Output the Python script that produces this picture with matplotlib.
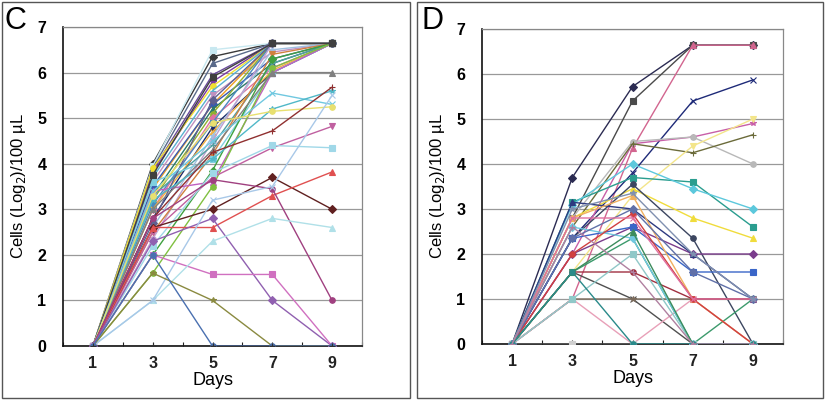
import matplotlib
matplotlib.use("Agg")
import matplotlib.pyplot as plt
from matplotlib.patches import Rectangle

plt.rcParams['font.family'] = ['Liberation Sans', 'DejaVu Sans']

days = [1, 3, 5, 7, 9]
y_ticks = [0, 1, 2, 3, 4, 5, 6, 7]
x_tick_labels = ["1", "3", "5", "7", "9"]
y_label = "Cells (Log$_2$)/100 µL"
x_label = "Days"
panel_labels = ["C", "D"]

c_series = [
    [0, 4.0, 6.35, 6.64, 6.64],
    [0, 3.95, 6.5, 6.64, 6.64],
    [0, 3.9, 6.2, 6.64, 6.64],
    [0, 3.85, 5.95, 6.64, 6.64],
    [0, 3.8, 5.8, 6.64, 6.64],
    [0, 3.9, 5.7, 6.64, 6.64],
    [0, 3.7, 5.6, 6.64, 6.64],
    [0, 3.6, 5.5, 6.45, 6.64],
    [0, 3.45, 5.3, 6.64, 6.64],
    [0, 3.5, 5.3, 6.3, 6.64],
    [0, 3.3, 5.2, 6.2, 6.64],
    [0, 3.2, 5.1, 6.64, 6.64],
    [0, 3.0, 5.0, 6.1, 6.64],
    [0, 3.1, 4.9, 6.64, 6.64],
    [0, 2.8, 4.8, 6.0, 6.64],
    [0, 3.0, 4.7, 6.05, 6.64],
    [0, 2.6, 4.6, 6.5, 6.64],
    [0, 2.35, 4.5, 6.64, 6.64],
    [0, 3.3, 4.4, 6.2, 6.64],
    [0, 2.5, 4.2, 6.4, 6.64],
    [0, 3.6, 4.1, 6.0, 6.64],
    [0, 2.0, 3.85, 6.3, 6.64],
    [0, 3.4, 3.6, 6.0, 6.64],
    [0, 1.6, 3.5, 6.1, 6.64],
    [0, 2.7, 5.4, 6.64, 6.64],
    [0, 3.75, 5.9, 6.64, 6.64],
    [0, 3.0, 4.3, 6.0, 6.0],
    [0, 3.4, 4.5, 5.55, 5.3],
    [0, 3.2, 4.1, 5.2, 5.6],
    [0, 3.3, 4.9, 5.15, 5.25],
    [0, 2.8, 4.25, 4.72, 5.68],
    [0, 2.5, 3.7, 4.35, 4.82],
    [0, 2.2, 3.8, 4.4, 4.35],
    [0, 2.6, 3.0, 3.7, 3.0],
    [0, 2.6, 2.6, 3.3, 3.82],
    [0, 2.8, 3.65, 3.45, 1.0],
    [0, 2.3, 2.8, 1.0, 0],
    [0, 2.0, 1.57, 1.57, 0],
    [0, 1.0, 2.3, 2.8, 2.6],
    [0, 1.0, 3.2, 3.5, 5.5],
    [0, 1.6, 1.0, 0, 0],
    [0, 2.0, 0, 0, 0],
    [0, 0, 0, 0, 0],
]

d_series = [
    [0, 3.7, 5.72, 6.64, 6.64],
    [0, 2.8, 5.4, 6.64, 6.64],
    [0, 1.0, 4.35, 6.64, 6.64],
    [0, 2.35, 3.8, 5.4, 5.87],
    [0, 2.0, 4.45, 4.6, 4.9],
    [0, 2.8, 4.5, 4.6, 4.0],
    [0, 2.6, 4.45, 4.25, 4.65],
    [0, 1.6, 3.3, 4.4, 5.0],
    [0, 3.15, 3.7, 3.6, 2.6],
    [0, 3.1, 4.0, 3.45, 3.0],
    [0, 2.8, 3.45, 2.8, 2.35],
    [0, 2.35, 3.55, 2.35, 0],
    [0, 2.0, 2.6, 2.0, 2.0],
    [0, 2.35, 2.6, 1.6, 1.6],
    [0, 3.15, 3.0, 2.0, 1.0],
    [0, 1.6, 1.0, 0, 0],
    [0, 1.0, 1.0, 1.0, 1.0],
    [0, 1.6, 1.6, 1.0, 1.0],
    [0, 1.0, 0, 1.0, 0],
    [0, 1.6, 2.35, 0, 1.0],
    [0, 0, 0, 0, 0],
    [0, 2.6, 2.35, 0, 0],
    [0, 2.8, 3.3, 1.0, 0],
    [0, 2.0, 2.9, 1.0, 0],
    [0, 2.35, 3.0, 1.6, 1.0],
    [0, 1.0, 2.0, 0, 0],
    [0, 1.6, 2.5, 0, 0],
    [0, 2.8, 2.8, 1.0, 1.0],
    [0, 3.0, 3.35, 2.0, 1.0],
    [0, 1.6, 0, 0, 0],
    [0, 2.6, 1.6, 0, 0],
]

palette = ['#2b2b52', '#4a4a4a', '#d2658f', '#1e2a78', '#c85fa8', '#b8b8b8',
           '#6b6b3a', '#f3e58a', '#2a9d8f', '#5cc8dc', '#f0dc3c', '#3c4660',
           '#7a3c8c', '#3a66c8', '#2e3a80', '#505050', '#7a6a5a', '#a03040',
           '#e8a0b8', '#3c9a6c', '#d0d0d0', '#70c8e0', '#f0b060', '#d04040',
           '#6070a8', '#90c8c8', '#3c8c5c', '#e070a0', '#8090b0', '#2a8a8a',
           '#b080a0', '#f2a030', '#99c040', '#cc99ff', '#99ccff', '#ffcc00']
c_palette = ['#3a3a3a', '#c8e8f0', '#5a6a8a', '#6a4a9a', '#7a3aa0', '#f0e030',
             '#5ab0d0', '#c090c0', '#f0a020', '#3a5ab0', '#2a7a6a', '#90b030',
             '#e070a0', '#4a8ac0', '#1a2a6a', '#f0b040', '#a0c0e0', '#c0a0d0',
             '#50a0a0', '#d08040', '#80d0e0', '#40a040', '#c060c0', '#80c040',
             '#606090', '#404040', '#808080', '#70c8e0', '#50b8c8', '#e8e070',
             '#903030', '#c060a0', '#a0d8e8', '#602020', '#e05050', '#a04080',
             '#9060b0', '#d070c0', '#b0e0e8', '#a8c8e8', '#8a8a40', '#4a70b0',
             '#303030']
markers = ['D', 's', '^', 'x', '*', 'o', '+', 'v', 's', 'D', '^', 'o']

fig = plt.figure(figsize=(8.25, 4.0), dpi=100)

# panel frames
for x0, w in [(0.003, 0.494), (0.506, 0.491)]:
    fig.patches.append(Rectangle((x0, 0.006), w, 0.988, transform=fig.transFigure,
                                 fill=False, edgecolor='#555555', linewidth=1.0))

axes_pos = [[0.0764, 0.135, 0.3624, 0.7975], [0.5842, 0.14, 0.365, 0.7875]]
all_series = [c_series, d_series]
pals = [c_palette, palette]

for k in range(2):
    ax = fig.add_axes(axes_pos[k])
    for i, s in enumerate(all_series[k]):
        col = pals[k][i % len(pals[k])]
        ax.plot(days, s, color=col, linewidth=1.0, marker=markers[i % len(markers)],
                markersize=4, markerfacecolor=col, markeredgecolor=col,
                markeredgewidth=0.8, zorder=3)
    ax.set_xlim(0, 10)
    ax.set_ylim(0, 7)
    ax.set_yticks(y_ticks)
    ax.set_yticklabels([str(v) for v in y_ticks], fontsize=11.5, fontweight='bold')
    ax.set_xticks(list(range(0, 11)))
    ax.set_xticklabels(["" if d not in days else str(d) for d in range(0, 11)],
                       fontsize=11.5, fontweight='bold')
    ax.tick_params(axis='x', direction='in', length=3, width=0.8, pad=7, colors='#222222')
    ax.tick_params(axis='y', length=0, pad=12)
    ax.grid(axis='y', color='#999999', linewidth=0.9, zorder=1)
    ax.set_axisbelow(True)
    for sp in ['top', 'right']:
        ax.spines[sp].set_color('#888888')
        ax.spines[sp].set_linewidth(0.9)
    for sp in ['left', 'bottom']:
        ax.spines[sp].set_color('#111111')
        ax.spines[sp].set_linewidth(1.2)
    ax.set_xlabel(x_label, fontsize=13, labelpad=1)
    ax.set_ylabel(y_label, fontsize=12, labelpad=7)
    fx = 0.006 if k == 0 else 0.511
    fig.text(fx, 0.985, panel_labels[k], fontsize=22, ha='left', va='top')

fig.savefig("out.png", dpi=100)
